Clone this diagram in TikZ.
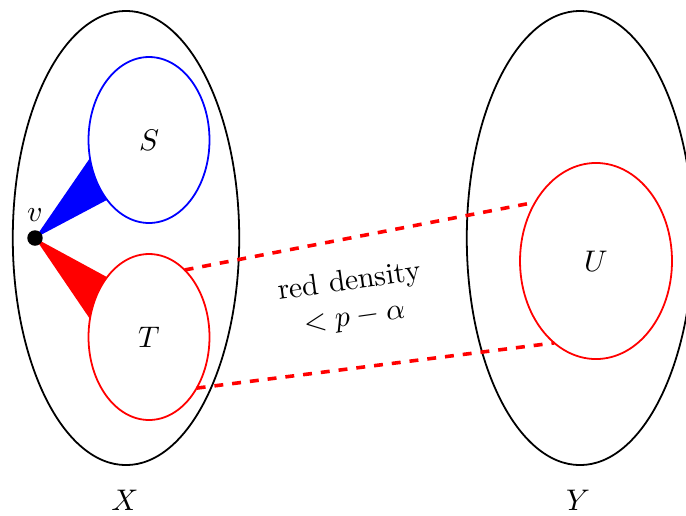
\documentclass[tikz,border=0pt]{standalone}
\usepackage{amsmath,amssymb}
\usepackage{tikz}
\usetikzlibrary{shapes.geometric,backgrounds}

\begin{document}
\begin{tikzpicture}[
    x=0.3356pt, y=-0.3356pt,
    set/.style={ellipse, draw, semithick, inner sep=0pt, outer sep=0pt},
    big/.style={set, minimum width=76pt, minimum height=152.4pt},
    sml/.style={set, fill=white, minimum width=40.6pt, minimum height=55.7pt},
    dens/.style={draw=red, dashed, very thick},
  ]
  \useasboundingbox (0,0) rectangle (686,515);

  % the two sides
  \node[big] (X) at (126,238) {};
  \node[big] (Y) at (580,238) {};
  \node (xl) at (125,500) {$X$};
  \node (yl) at (578,500) {$Y$};

  % sets inside
  \node[sml, draw=blue] (S) at (149,140) {$S$};
  \node[sml, draw=red]  (T) at (149,337) {$T$};
  \node[sml, draw=red, minimum width=51pt, minimum height=65.8pt] (U) at (596,261) {$U$};

  % the vertex and its neighbourhoods
  \fill (35,238) circle (2.6pt) coordinate (v);
  \node[above=2pt] (vl) at (v) {$v$};
  \begin{pgfonlayer}{background}
    \fill[blue] (v) -- (S.197) -- (S.center) -- (S.235) -- cycle;
    \fill[red]  (v) -- (T.125) -- (T.center) -- (T.163) -- cycle;
  \end{pgfonlayer}

  % sparse pair T,U
  \draw[dens] (T.62)  -- (U.136);
  \draw[dens] (T.313) -- (U.243);
  \node[rotate=8, align=center] (lbl) at (352,300) {red density\\$<p-\alpha$};
\end{tikzpicture}
\end{document}
